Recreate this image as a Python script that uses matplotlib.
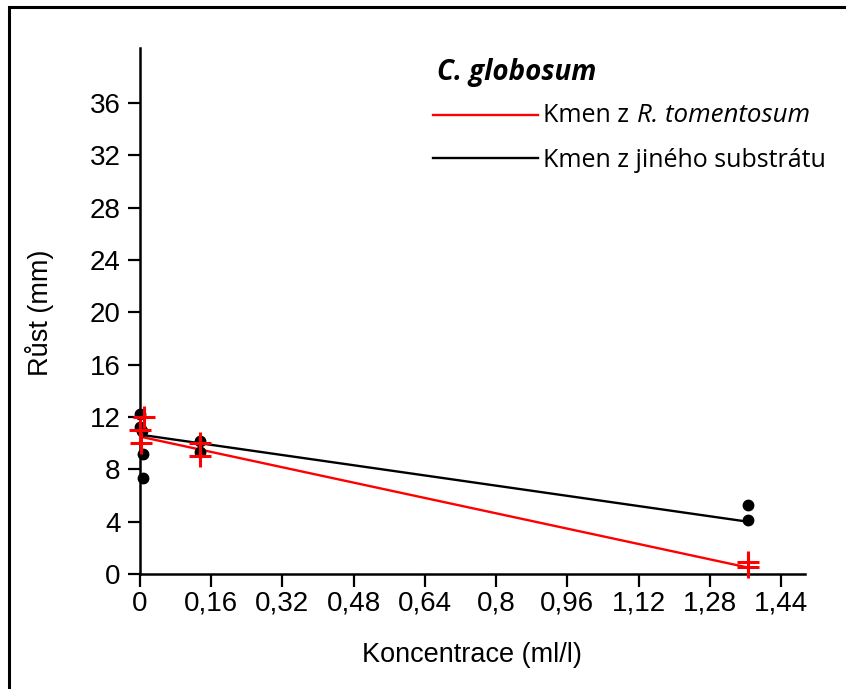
import matplotlib
matplotlib.use("Agg")
import matplotlib.pyplot as plt
from matplotlib.lines import Line2D
from matplotlib.patches import Rectangle
from matplotlib.ticker import FuncFormatter

# Data
conc_black = [0.0, 0.0, 0.004, 0.007, 0.007, 0.135, 0.135, 1.365, 1.365]
rust_black = [12.2, 11.2, 10.9, 9.2, 7.3, 10.2, 9.3, 5.3, 4.1]

conc_red = [0.01, 0.0, 0.002, 0.135, 0.135, 1.365, 1.365]
rust_red = [12.0, 11.0, 10.0, 10.0, 9.0, 0.9, 0.5]

# fitted lines (end points)
fit_x = [0.0, 1.365]
fit_red = [10.5, 0.5]
fit_black = [10.65, 4.0]

x_ticks = [0, 0.16, 0.32, 0.48, 0.64, 0.8, 0.96, 1.12, 1.28, 1.44]
y_ticks = [0, 4, 8, 12, 16, 20, 24, 28, 32, 36]

W, H = 846, 689
fig = plt.figure(figsize=(W / 100, H / 100), dpi=100)
ax = fig.add_axes([140 / W, 1 - 574 / H, 665 / W, 526 / H])

tick_font = ['Liberation Sans', 'DejaVu Sans']
leg_font = ['Open Sans', 'DejaVu Sans']

ax.plot(fit_x, fit_black, color='black', lw=1.7, zorder=2)
ax.plot(fit_x, fit_red, color='#ff0000', lw=1.7, zorder=2)
ax.plot(conc_black, rust_black, 'o', color='black', ms=7.5, zorder=3, clip_on=False)
ax.plot(conc_red, rust_red, '+', color='#ff0000', ms=16, mew=2.2, zorder=4, clip_on=False)

ax.set_xlim(0, 1.494)
ax.set_ylim(0, 40.2)
ax.set_xticks(x_ticks)
ax.set_yticks(y_ticks)
fmt = FuncFormatter(lambda v, p: f"{round(v, 2):g}".replace('.', ','))
ax.xaxis.set_major_formatter(fmt)
ax.yaxis.set_major_formatter(fmt)

for s in ['top', 'right']:
    ax.spines[s].set_visible(False)
for s in ['left', 'bottom']:
    ax.spines[s].set_linewidth(1.8)
ax.tick_params(axis='both', direction='out', length=9, width=1.6, labelsize=20)
ax.tick_params(axis='x', pad=3)
ax.tick_params(axis='y', pad=5)
for lab in ax.get_xticklabels() + ax.get_yticklabels():
    lab.set_family(tick_font)

fig.text(40 / W, 1 - 313 / H, 'Růst (mm)', rotation=90, ha='center', va='center',
         fontsize=19.5, family=tick_font)
fig.text(472 / W, 1 - 655 / H, 'Koncentrace (ml/l)', ha='center', va='center',
         fontsize=19.5, family=tick_font)

# legend drawn by hand
fig.text(437 / W, 1 - 80 / H, 'C. globosum', fontsize=20, family=leg_font,
         style='italic', weight='bold', va='baseline')
fig.add_artist(Line2D([433 / W, 538 / W], [1 - 115 / H] * 2, color='#ff0000', lw=1.7))
fig.add_artist(Line2D([433 / W, 538 / W], [1 - 158 / H] * 2, color='black', lw=1.7))
t1 = fig.text(543 / W, 1 - 122 / H, 'Kmen z', fontsize=18, family=leg_font, va='baseline')
ax.annotate('R. tomentosum', xy=(1, 0), xycoords=t1, xytext=(6, 0), textcoords='offset points',
            fontsize=18.6, family=leg_font, style='italic', va='bottom', ha='left')
fig.text(543 / W, 1 - 167 / H, 'Kmen z jiného substrátu', fontsize=18, family=leg_font,
         va='baseline')

# outer frame
fig.add_artist(Rectangle((9 / W, -0.1), 1.0, 1.1 - 7 / H, transform=fig.transFigure,
                         fill=False, lw=2.2, edgecolor='black'))

fig.savefig('out.png', dpi=100)
